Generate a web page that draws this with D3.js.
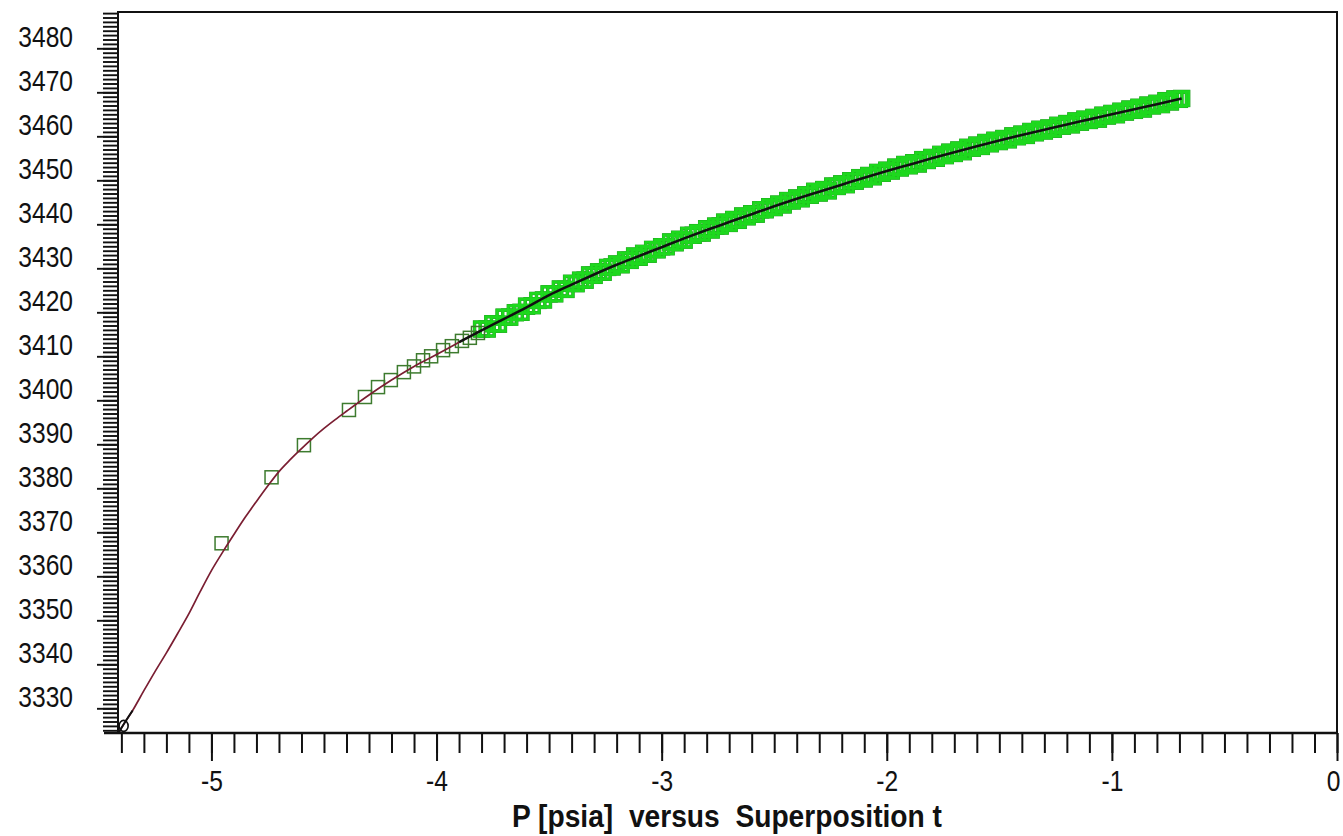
<!DOCTYPE html>
<html><head><meta charset="utf-8">
<script src="https://cdn.jsdelivr.net/npm/d3@7"></script>
<style>
html,body{margin:0;padding:0;background:#fff;}
svg{display:block;}
text{font-family:"Liberation Sans",Arial,sans-serif;}
</style></head><body>
<svg id="chart" width="1343" height="836"></svg>
<script>
// ---- data ----
const xTickLabels = [-5, -4, -3, -2, -1, 0];
const yTickLabels = [3330, 3340, 3350, 3360, 3370, 3380, 3390, 3400, 3410, 3420, 3430, 3440, 3450, 3460, 3470, 3480];
const xTitle = "P [psia]  versus  Superposition t";

// model (fitted) curve
const modelT = [-5.41, -5.40, -5.35, -5.30, -5.25, -5.20, -5.15, -5.10, -5.05, -5.00, -4.95, -4.90, -4.85, -4.80, -4.75, -4.70, -4.65, -4.60, -4.55, -4.50, -4.45, -4.40, -4.30, -4.20, -4.10, -4.00, -3.90, -3.80, -3.70, -3.60, -3.50, -3.40, -3.30, -3.20, -3.10, -3.00, -2.90, -2.80, -2.70, -2.60, -2.50, -2.40, -2.30, -2.20, -2.10, -2.00, -1.90, -1.80, -1.70, -1.60, -1.50, -1.40, -1.30, -1.20, -1.10, -1.00, -0.90, -0.80, -0.69];
const modelP = [3324.6, 3325.5, 3329.5, 3334.0, 3338.4, 3342.6, 3347.0, 3351.5, 3356.5, 3361.3, 3365.5, 3369.5, 3373.4, 3377.0, 3380.5, 3383.8, 3386.5, 3389.0, 3391.4, 3393.6, 3395.6, 3397.5, 3401.2, 3404.6, 3407.7, 3410.4, 3413.2, 3415.9, 3418.5, 3421.1, 3423.9, 3426.3, 3428.6, 3430.8, 3432.8, 3434.8, 3436.8, 3438.7, 3440.5, 3442.3, 3444.1, 3445.8, 3447.4, 3449.0, 3450.6, 3452.1, 3453.55, 3455.0, 3456.4, 3457.75, 3459.05, 3460.3, 3461.5, 3462.7, 3463.85, 3465.0, 3466.15, 3467.3, 3468.6];

// first (reference) point
const firstT = [-5.39];
const firstP = [3326.0];

// early, sparse measured points
const sparseT = [-4.955, -4.733, -4.589, -4.389, -4.318, -4.260, -4.203, -4.145, -4.100, -4.060, -4.024, -3.971, -3.932, -3.887, -3.852, -3.816];
const sparseP = [3367.5, 3382.5, 3389.8, 3397.8, 3400.75, 3403.0, 3404.6, 3406.4, 3407.7, 3409.1, 3410.0, 3411.4, 3412.3, 3413.5, 3414.2, 3415.3];

// late, dense measured points
const denseT = [-3.800, -3.775, -3.750, -3.725, -3.700, -3.675, -3.650, -3.625, -3.600, -3.575, -3.550, -3.525, -3.500, -3.475, -3.450, -3.425,
  -3.40, -3.38, -3.36, -3.34, -3.32, -3.30, -3.28, -3.26, -3.24, -3.22, -3.20, -3.18, -3.16, -3.14, -3.12, -3.10, -3.08, -3.06, -3.04, -3.02,
  -3.00, -2.98, -2.96, -2.94, -2.92, -2.90, -2.88, -2.86, -2.84, -2.82, -2.80, -2.78, -2.76, -2.74, -2.72, -2.70, -2.68, -2.66, -2.64, -2.62,
  -2.60, -2.58, -2.56, -2.54, -2.52, -2.50, -2.48, -2.46, -2.44, -2.42, -2.40, -2.38, -2.36, -2.34, -2.32, -2.30, -2.28, -2.26, -2.24, -2.22,
  -2.20, -2.18, -2.16, -2.14, -2.12, -2.10, -2.08, -2.06, -2.04, -2.02, -2.00, -1.98, -1.96, -1.94, -1.92, -1.90, -1.88, -1.86, -1.84, -1.82,
  -1.80, -1.78, -1.76, -1.74, -1.72, -1.70, -1.68, -1.66, -1.64, -1.62, -1.60, -1.58, -1.56, -1.54, -1.52, -1.50, -1.48, -1.46, -1.44, -1.42,
  -1.40, -1.38, -1.36, -1.34, -1.32, -1.30, -1.28, -1.26, -1.24, -1.22, -1.20, -1.18, -1.16, -1.14, -1.12, -1.10, -1.08, -1.06, -1.04, -1.02,
  -1.00, -0.98, -0.96, -0.94, -0.92, -0.90, -0.88, -0.86, -0.84, -0.82, -0.80, -0.78, -0.76, -0.74, -0.72, -0.70, -0.69];
const denseP = [3416.2, 3416.2, 3417.4, 3417.3, 3418.9, 3418.9, 3419.9, 3420.0, 3421.4, 3421.5, 3422.7, 3422.8, 3424.2, 3424.2, 3425.3, 3425.2,
  3426.6, 3426.5, 3427.3, 3427.3, 3428.5, 3428.4, 3429.2, 3429.1, 3430.2, 3430.3, 3431.0, 3430.8, 3431.9, 3431.8, 3432.8, 3432.5, 3433.4, 3433.2, 3434.3, 3434.2,
  3434.9, 3434.9, 3436.0, 3435.8, 3436.6, 3436.4, 3437.5, 3437.5, 3438.1, 3438.0, 3439.0, 3438.7, 3439.6, 3439.6, 3440.5, 3440.2, 3441.1, 3440.9, 3441.9, 3441.7,
  3442.4, 3442.3, 3443.3, 3443.3, 3444.0, 3443.8, 3444.6, 3444.4, 3445.4, 3445.3, 3446.0, 3445.8, 3446.7, 3446.6, 3447.5, 3447.1, 3447.9, 3447.6, 3448.7, 3448.6,
  3449.2, 3449.0, 3449.9, 3449.8, 3450.6, 3450.3, 3451.1, 3450.8, 3451.8, 3451.6, 3452.3, 3452.1, 3453.0, 3452.8, 3453.6, 3453.3, 3454.0, 3453.7, 3454.7, 3454.5,
  3455.2, 3455.0, 3455.9, 3455.6, 3456.4, 3456.1, 3456.9, 3456.5, 3457.5, 3457.3, 3458.0, 3457.7, 3458.6, 3458.3, 3459.1, 3458.8, 3459.5, 3459.2, 3460.1, 3459.9,
  3460.5, 3460.2, 3461.1, 3460.8, 3461.6, 3461.2, 3461.9, 3461.6, 3462.5, 3462.3, 3462.9, 3462.6, 3463.5, 3463.2, 3463.9, 3463.6, 3464.3, 3463.9, 3464.8, 3464.6,
  3465.2, 3464.9, 3465.7, 3465.5, 3466.2, 3465.9, 3466.6, 3466.2, 3467.1, 3466.9, 3467.5, 3467.2, 3468.1, 3467.8, 3468.5, 3468.4, 3468.6];

// ---- drawing ----
(function () {
const svg = d3.select("#chart");
const pL = 118, pR = 1337, pT = 12, pB = 733;
const FONT = '"Liberation Sans",Arial,sans-serif';
const NARROW = 0.82;

const x = d3.scaleLinear().domain([-5.415, 0]).range([pL, pR]);
const y = d3.scaleLinear().domain([3330, 3480]).range([708.3, 48.3]);

const zip = (a, b) => a.map((v, i) => [v, b[i]]);
const model = zip(modelT, modelP);
const sparse = zip(sparseT, sparseP);
const dense = zip(denseT, denseP);

const line = d3.line().x(d => x(d[0])).y(d => y(d[1])).curve(d3.curveMonotoneX);
const sq = 13, sqD = 14;

// dense squares: dark outline pass then bright pass
const gDense = svg.append("g");
gDense.selectAll("rect.o").data(dense).join("rect").attr("class", "o")
  .attr("x", d => x(d[0]) - sqD / 2).attr("y", d => y(d[1]) - sqD / 2)
  .attr("width", sqD).attr("height", sqD)
  .attr("fill", "none").attr("stroke", "#1c941c").attr("stroke-width", 3.4);
gDense.selectAll("rect.i").data(dense).join("rect").attr("class", "i")
  .attr("x", d => x(d[0]) - sqD / 2).attr("y", d => y(d[1]) - sqD / 2)
  .attr("width", sqD).attr("height", sqD)
  .attr("fill", "none").attr("stroke", "#1ed81e").attr("stroke-width", 2.7);

// sparse squares
svg.append("g").selectAll("rect").data(sparse).join("rect")
  .attr("x", d => x(d[0]) - sq / 2).attr("y", d => y(d[1]) - sq / 2)
  .attr("width", sq).attr("height", sq)
  .attr("fill", "none").attr("stroke", "#3d7b2e").attr("stroke-width", 1.5);

// model line (red part)
svg.append("path").datum(model.filter(d => d[0] <= -3.8))
  .attr("d", line).attr("fill", "none").attr("stroke", "#7a1e32").attr("stroke-width", 1.7);
// black line over dense data and at start
svg.append("path").datum(model.filter(d => d[0] >= -3.9))
  .attr("d", line).attr("fill", "none").attr("stroke", "#111").attr("stroke-width", 2.6);
svg.append("path").datum(model.filter(d => d[0] <= -5.34))
  .attr("d", line).attr("fill", "none").attr("stroke", "#111").attr("stroke-width", 2);

// first point marker
svg.append("g").selectAll("ellipse").data(zip(firstT, firstP)).join("ellipse")
  .attr("cx", d => x(d[0])).attr("cy", d => y(d[1]))
  .attr("rx", 4.5).attr("ry", 5.5)
  .attr("fill", "none").attr("stroke", "#111").attr("stroke-width", 1.6);

// ---- axes ----
const fontSize = 30;
const yMinor = d3.range(3325, 3489, 1);
svg.append("g").attr("transform", `translate(${pL},0)`)
  .call(d3.axisLeft(y).tickValues(yMinor).tickSize(15).tickSizeOuter(0).tickFormat(""))
  .call(g => g.select(".domain").remove())
  .call(g => g.selectAll("line").attr("stroke", "#111").attr("stroke-width", 1.9));
svg.append("g").attr("transform", `translate(${pL},0)`)
  .call(d3.axisLeft(y).tickValues(yTickLabels).tickSize(21).tickSizeOuter(0).tickFormat(d3.format("d")))
  .call(g => g.select(".domain").remove())
  .call(g => g.selectAll("line").attr("stroke", "#111").attr("stroke-width", 1.9))
  .call(g => g.selectAll("text").attr("x", 0).attr("y", 0).attr("dy", 0)
    .attr("transform", `translate(-45,-2) scale(${NARROW},1)`)
    .attr("font-size", fontSize).attr("fill", "#111").attr("font-family", FONT));

const xMinor = d3.range(-54, 1).map(i => i / 10);
svg.append("g").attr("transform", `translate(0,${pB})`)
  .call(d3.axisBottom(x).tickValues(xMinor).tickSize(20).tickSizeOuter(0).tickFormat(""))
  .call(g => g.select(".domain").remove())
  .call(g => g.selectAll("line").attr("stroke", "#111").attr("stroke-width", 2));
svg.append("g").attr("transform", `translate(0,${pB})`)
  .call(d3.axisBottom(x).tickValues(xTickLabels).tickSize(28).tickSizeOuter(0).tickFormat(d => d === 0 ? "0" : "-" + Math.abs(d)))
  .call(g => g.select(".domain").remove())
  .call(g => g.selectAll("line").attr("stroke", "#111").attr("stroke-width", 2))
  .call(g => g.selectAll("text").attr("x", 0).attr("y", 0).attr("dy", 0)
    .attr("transform", d => `translate(${d === 0 ? -4 : 0},58) scale(${NARROW},1)`)
    .attr("font-size", fontSize).attr("fill", "#111").attr("font-family", FONT));

// frame
svg.append("path")
  .attr("d", `M${pL},${pB}V${pT}H${pR}V${pB}`)
  .attr("fill", "none").attr("stroke", "#111").attr("stroke-width", 2);
svg.append("line").attr("x1", 104).attr("x2", pR + 1).attr("y1", pB).attr("y2", pB)
  .attr("stroke", "#111").attr("stroke-width", 2.4);

// x title
svg.append("text").attr("x", 512).attr("y", 827)
  .attr("text-anchor", "start").attr("font-weight", "bold").attr("font-size", 31)
  .attr("textLength", 430).attr("lengthAdjust", "spacingAndGlyphs")
  .attr("fill", "#111").style("white-space", "pre").attr("font-family", FONT)
  .text(xTitle);
})();
</script>
</body></html>
